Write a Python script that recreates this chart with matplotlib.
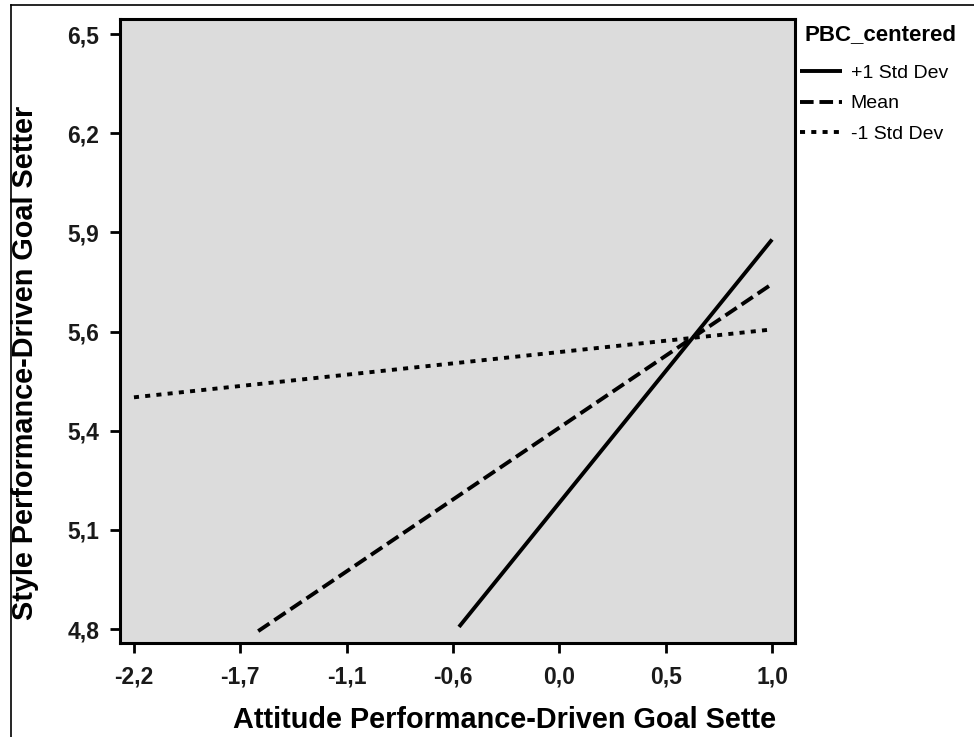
import matplotlib
matplotlib.use("Agg")
import matplotlib.pyplot as plt
import numpy as np
from matplotlib.lines import Line2D

plt.rcParams['font.family'] = ['Liberation Sans', 'DejaVu Sans']

# Data
series_names = ["+1 Std Dev", "Mean", "-1 Std Dev"]
x_plus = [-0.57, 1.0]
y_plus = [4.806, 5.913]
x_mean = [-1.577, 1.0]
y_mean = [4.794, 5.786]
x_minus = [-2.2, 1.0]
y_minus = [5.462, 5.656]

x_tick_labels = ["-2,2", "-1,7", "-1,1", "-0,6", "0,0", "0,5", "1,0"]
y_tick_labels = ["4,8", "5,1", "5,4", "5,6", "5,9", "6,2", "6,5"]
x_tick_pos = np.linspace(-2.2, 1.0, 7)
y_tick_pos = np.linspace(4.8, 6.5, 7)

W, H = 974, 737
fig = plt.figure(figsize=(W / 100, H / 100), dpi=100)
ax = fig.add_axes([120 / W, 1 - 643 / H, (795 - 120) / W, (643 - 19) / H])
ax.set_facecolor('#DCDCDC')

lw = 2.8
ax.plot(x_plus, y_plus, color='black', lw=lw, solid_capstyle='butt', label=series_names[0])
ax.plot(x_mean, y_mean, color='black', lw=lw, dashes=(3.5, 1.5), dash_capstyle='butt', label=series_names[1])
ax.plot(x_minus, y_minus, color='black', lw=lw, dashes=(1.3, 1.6), dash_capstyle='butt', label=series_names[2])

ax.set_xlim(-2.27, 1.115)
ax.set_ylim(4.76, 6.543)
ax.set_xticks(x_tick_pos)
ax.set_xticklabels(x_tick_labels)
ax.set_yticks(y_tick_pos)
ax.set_yticklabels(y_tick_labels)

for s in ax.spines.values():
    s.set_linewidth(2.2)
    s.set_color('black')

ax.tick_params(axis='both', direction='out', length=7, width=2.0, color='black', labelsize=16.5)
ax.tick_params(axis='x', pad=9)
ax.tick_params(axis='y', pad=8)
for lab in ax.get_xticklabels() + ax.get_yticklabels():
    lab.set_fontweight('bold')
    lab.set_color('#1a1a1a')

ax.set_xlabel("Attitude Performance-Driven Goal Sette", fontsize=20.8, fontweight='bold', va='center')
ax.set_ylabel("Style Performance-Driven Goal Setter", fontsize=20.8, fontweight='bold', va='center')
ax.xaxis.set_label_coords((504.5 - 120) / 675, (643 - 720) / 624)
ax.yaxis.set_label_coords((25 - 120) / 675, (643 - 363) / 624)

fig.text(805 / W, 1 - 35 / H, "PBC_centered", fontsize=16, fontweight='bold', ha='left', va='center')
leg = fig.legend(loc='upper left', bbox_to_anchor=(800 / W, 1 - 64 / H),
                 bbox_transform=fig.transFigure, frameon=False,
                 fontsize=14, handlelength=2.15, handletextpad=0.45, labelspacing=0.68,
                 borderpad=0, borderaxespad=0)

# outer frame (top and left edges)
fig.add_artist(Line2D([10.5 / W, 10.5 / W], [0, 1 - 5 / H], transform=fig.transFigure, color='black', lw=1.2))
fig.add_artist(Line2D([10.5 / W, 1], [1 - 5 / H, 1 - 5 / H], transform=fig.transFigure, color='black', lw=1.2))

fig.savefig("out.png", dpi=100, facecolor='white')
